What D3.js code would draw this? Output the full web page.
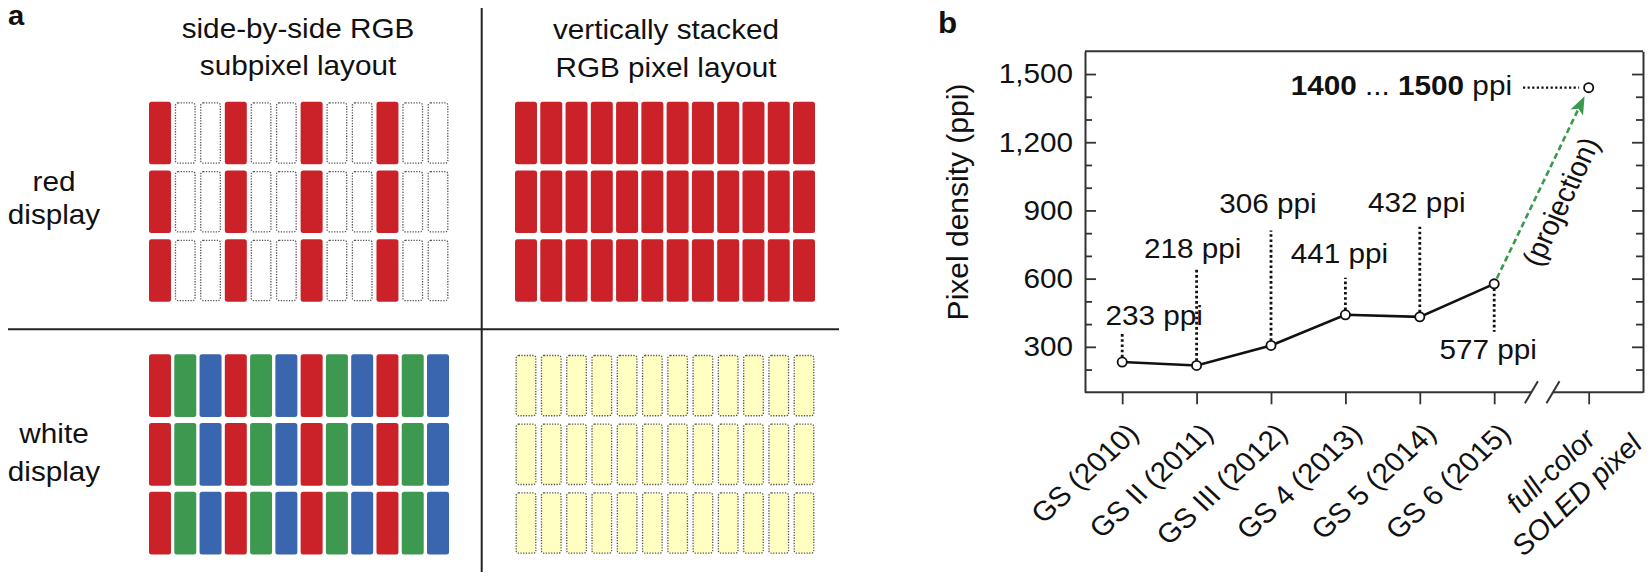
<!DOCTYPE html>
<html>
<head>
<meta charset="utf-8">
<script src="https://cdn.jsdelivr.net/npm/d3@7"></script>
<style>
  html, body { margin: 0; padding: 0; background: #fff; }
  svg { display: block; font-family: "Liberation Sans", Arial, Helvetica, sans-serif; }
</style>
</head>
<body>
<div id="chart"></div>
<script>
// ---- panel a: subpixel layouts ----
const layoutTitles = [["side-by-side RGB", "subpixel layout"], ["vertically stacked", "RGB pixel layout"]];
const displayNames = [["red", "display"], ["white", "display"]];
const pixelColumns = d3.range(12);
const pixelRows = d3.range(3);
const patternSideRed = ["R", "off", "off"];
const patternSideWhite = ["R", "G", "B"];
const patternStackRed = ["R"];
const patternStackWhite = ["W"];

// ---- panel b: pixel density ----
const phones = ["GS (2010)", "GS II (2011)", "GS III (2012)", "GS 4 (2013)", "GS 5 (2014)", "GS 6 (2015)"];
const phoneSlots = [0, 1, 2, 3, 4, 5];
const ppi = [233, 218, 306, 441, 432, 577];
const projectionName = ["full-color", "SOLED pixel"];
const projectionSlot = 6.27;
const projectionPpi = 1440;
const projectionRange = [1400, 1500];
const yMajorTicks = [300, 600, 900, 1200, 1500];
const yMinorTicks = [200, 400, 500, 700, 800, 1000, 1100, 1300, 1400];

// annotation layout (px, relative to each point)
const leaderEnd = [-30, -97, -115, -37, -90, 48];
const labelDy = [-37, -107, -132, -52, -105, 75];
const labelDx = [32, -4, -3, -6, -3, -6];

const SX = 1.08; // text in the figure is a little wide
const FS = 27.5;
const ink = "#111";
const colors = { R: "#cb2229", G: "#3e9950", B: "#3966ae", W: "#ffffc2", off: "#fff" };

const W = 1650, H = 577;
const svg = d3.select("#chart").append("svg")
  .attr("width", W).attr("height", H)
  .attr("viewBox", `0 0 ${W} ${H}`);

function stext(parent, x, y, str, opts = {}) {
  const sx = opts.sx || SX;
  const t = parent.append("text")
    .attr("transform", `translate(${x},${y}) scale(${sx},1)` + (opts.rotate ? ` rotate(${opts.rotate})` : ""))
    .attr("x", opts.lx || 0)
    .attr("y", opts.ly || 0)
    .attr("text-anchor", opts.anchor || "middle")
    .attr("font-size", opts.size || FS)
    .attr("fill", ink);
  if (opts.dy) t.attr("dy", opts.dy);
  if (opts.weight) t.attr("font-weight", opts.weight);
  if (opts.italic) t.attr("font-style", "italic");
  if (str != null) t.text(str);
  return t;
}

// ================= panel a =================
const pa = svg.append("g");
stext(pa, 8, 25, "a", { anchor: "start", size: 27, weight: "bold" });

const quads = [
  { cols: [149, 449], rows: [101.7, 301.8], pattern: patternSideRed },
  { cols: [515, 815], rows: [101.7, 301.8], pattern: patternStackRed },
  { cols: [149, 449], rows: [354.3, 554.4], pattern: patternSideWhite },
  { cols: [515, 815], rows: [354.3, 554.4], pattern: patternStackWhite }
];

quads.forEach(q => {
  const cx = d3.scaleBand().domain(pixelColumns).range(q.cols).paddingInner(0.13);
  const cy = d3.scaleBand().domain(pixelRows).range(q.rows).paddingInner(0.088);
  const cells = [];
  pixelRows.forEach(r => pixelColumns.forEach(c => cells.push({ r, c, k: q.pattern[c % q.pattern.length] })));
  const dotted = k => k === "off" || k === "W";
  pa.append("g").selectAll("rect").data(cells).enter().append("rect")
    .attr("x", d => cx(d.c) + (dotted(d.k) ? 1.2 : 0))
    .attr("y", d => cy(d.r) + (dotted(d.k) ? 1.2 : 0))
    .attr("width", d => cx.bandwidth() - (dotted(d.k) ? 2.4 : 0))
    .attr("height", d => cy.bandwidth() - (dotted(d.k) ? 2.4 : 0))
    .attr("rx", 2.5)
    .attr("fill", d => colors[d.k])
    .attr("stroke", d => dotted(d.k) ? "#555" : "none")
    .attr("stroke-width", 1.3)
    .attr("stroke-dasharray", "1.3,1.4");
});

// titles
[[298, 38, 75], [666, 39, 77]].forEach((p, i) => {
  stext(pa, p[0], p[1], layoutTitles[i][0]);
  stext(pa, p[0], p[2], layoutTitles[i][1]);
});
[[190.7, 224], [443.3, 481]].forEach((p, i) => {
  stext(pa, 54, p[0], displayNames[i][0]);
  stext(pa, 54, p[1], displayNames[i][1]);
});

// dividers
pa.append("line").attr("x1", 481.7).attr("x2", 481.7).attr("y1", 8).attr("y2", 572)
  .attr("stroke", "#222").attr("stroke-width", 2);
pa.append("line").attr("x1", 8).attr("x2", 839).attr("y1", 329.3).attr("y2", 329.3)
  .attr("stroke", "#222").attr("stroke-width", 2);

// ================= panel b =================
const pb = svg.append("g");
stext(pb, 938, 33, "b", { anchor: "start", size: 29, weight: "bold" });

const x = d3.scaleLinear().domain([-0.5, 7]).range([1085, 1643]);
const y = d3.scaleLinear().domain([100, 1600]).range([392.3, 51.3]);
const axisColor = "#333";

function styleAxis(sel) {
  sel.selectAll("path,line").attr("stroke", axisColor).attr("stroke-width", 1.8);
  sel.select(".domain").attr("stroke-width", 2);
}

// left axis with labels
const yl = pb.append("g").attr("transform", `translate(${x(-0.5)},0)`)
  .call(d3.axisLeft(y).tickValues(yMajorTicks).tickSizeInner(-11).tickSizeOuter(0)
    .tickPadding(12).tickFormat(d3.format(",")));
styleAxis(yl);
yl.selectAll("text")
  .attr("font-size", FS).attr("font-family", null).attr("fill", ink)
  .attr("transform", `translate(-12,0) scale(${SX},1)`).attr("x", 0);
pb.append("g").attr("transform", `translate(${x(-0.5)},0)`)
  .call(d3.axisLeft(y).tickValues(yMinorTicks).tickSizeInner(-7).tickSizeOuter(0).tickFormat(""))
  .call(styleAxis).select(".domain").remove();

// right axis, ticks only
pb.append("g").attr("transform", `translate(${x(7)},0)`)
  .call(d3.axisRight(y).tickValues(yMajorTicks).tickSizeInner(-11).tickSizeOuter(0).tickFormat(""))
  .call(styleAxis);
pb.append("g").attr("transform", `translate(${x(7)},0)`)
  .call(d3.axisRight(y).tickValues(yMinorTicks).tickSizeInner(-7).tickSizeOuter(0).tickFormat(""))
  .call(styleAxis).select(".domain").remove();

// top frame line
pb.append("line").attr("x1", x(-0.5)).attr("x2", x(7)).attr("y1", y(1600)).attr("y2", y(1600))
  .attr("stroke", axisColor).attr("stroke-width", 2);

// bottom axis with break
const xb = pb.append("g").attr("transform", `translate(0,${y(100)})`)
  .call(d3.axisBottom(x).tickValues(phoneSlots.concat([projectionSlot])).tickSizeInner(12).tickSizeOuter(0).tickFormat(""));
styleAxis(xb);
xb.select(".domain").remove();
const breakAt = [5.5, 5.79];
[[-0.5, breakAt[0]], [breakAt[1], 7]].forEach(s => {
  pb.append("line").attr("x1", x(s[0])).attr("x2", x(s[1])).attr("y1", y(100)).attr("y2", y(100))
    .attr("stroke", axisColor).attr("stroke-width", 2);
});
breakAt.forEach(b => {
  pb.append("line")
    .attr("x1", x(b) - 6.5).attr("y1", y(100) + 11)
    .attr("x2", x(b) + 6.5).attr("y2", y(100) - 11)
    .attr("stroke", axisColor).attr("stroke-width", 2);
});

// x labels
phones.forEach((name, i) => {
  stext(pb, x(phoneSlots[i]), y(100) + 12, name, { rotate: -45, anchor: "end", lx: -10, ly: 24, dy: "0.35em" });
});
projectionName.forEach((name, i) => {
  stext(pb, x(projectionSlot), y(100) + 12, name,
    { rotate: -45, anchor: "middle", lx: -72, ly: 22 + i * 34, dy: "0.35em", italic: true });
});

// y label
stext(pb, 957, 202, "Pixel density (ppi)", { rotate: -90, dy: "0.35em", sx: 1, size: 30 });

// leaders + labels
const pts = phoneSlots.map((s, i) => ({ px: x(s), py: y(ppi[i]), v: ppi[i], i }));
const R = 4.6;
pts.forEach(p => {
  const end = leaderEnd[p.i];
  pb.append("line")
    .attr("x1", p.px).attr("x2", p.px)
    .attr("y1", p.py + (end < 0 ? -R : R)).attr("y2", p.py + end)
    .attr("stroke", ink).attr("stroke-width", 2.8).attr("stroke-dasharray", "2.6,2.6");
  stext(pb, p.px + labelDx[p.i], p.py + labelDy[p.i], `${p.v} ppi`);
});

// projection arrow
const p0 = [x(phoneSlots[5]), y(ppi[5])];
const p1 = [x(projectionSlot), y(projectionPpi)];
const len = Math.hypot(p1[0] - p0[0], p1[1] - p0[1]);
const d = [(p1[0] - p0[0]) / len, (p1[1] - p0[1]) / len];
const nrm = [-d[1], d[0]];
const tip = [p1[0] - d[0] * 9.5, p1[1] - d[1] * 9.5];
const base = [tip[0] - d[0] * 18, tip[1] - d[1] * 18];
const green = "#3a9a4c";
pb.append("line")
  .attr("x1", p0[0] + d[0] * 6).attr("y1", p0[1] + d[1] * 6)
  .attr("x2", base[0] + d[0] * 2).attr("y2", base[1] + d[1] * 2)
  .attr("stroke", green).attr("stroke-width", 2.6).attr("stroke-dasharray", "6,3.5");
pb.append("path")
  .attr("d", d3.line()([tip, [base[0] + nrm[0] * 7, base[1] + nrm[1] * 7], [base[0] + d[0] * 4, base[1] + d[1] * 4], [base[0] - nrm[0] * 7, base[1] - nrm[1] * 7]]) + "Z")
  .attr("fill", green);

const ang = Math.atan2(-(p1[1] - p0[1]), (p1[0] - p0[0]) / SX) * 180 / Math.PI;
const tm = 0.47;
stext(pb, p0[0] + (p1[0] - p0[0]) * tm + 22, p0[1] + (p1[1] - p0[1]) * tm + 10, "(projection)",
  { rotate: -ang, dy: "0.35em" });

// projection label + dotted connector
const pl = stext(pb, 1512, 95, null, { anchor: "end" });
pl.append("tspan").attr("font-weight", "bold").text(projectionRange[0]);
pl.append("tspan").text(" ... ");
pl.append("tspan").attr("font-weight", "bold").text(projectionRange[1]);
pl.append("tspan").text(" ppi");
pb.append("line")
  .attr("x1", 1523).attr("x2", p1[0] - R - 5)
  .attr("y1", p1[1]).attr("y2", p1[1])
  .attr("stroke", ink).attr("stroke-width", 2.2).attr("stroke-dasharray", "2.2,2.4");

// data line and markers
pb.append("path").datum(pts)
  .attr("fill", "none").attr("stroke", ink).attr("stroke-width", 2.6)
  .attr("d", d3.line().x(p => p.px).y(p => p.py));
pb.selectAll("circle.pt").data(pts.concat([{ px: p1[0], py: p1[1] }])).enter().append("circle")
  .attr("class", "pt")
  .attr("cx", p => p.px).attr("cy", p => p.py).attr("r", R)
  .attr("fill", "#fff").attr("stroke", ink).attr("stroke-width", 1.8);
</script>
</body>
</html>
